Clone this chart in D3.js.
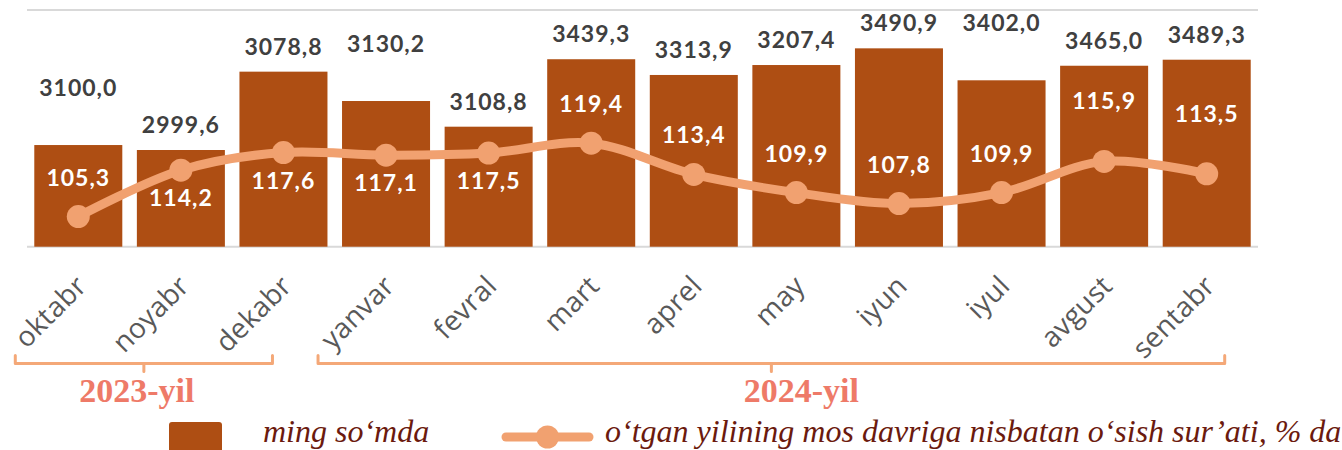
<!DOCTYPE html>
<html>
<head>
<meta charset="utf-8">
<script src="https://cdn.jsdelivr.net/npm/d3@7"></script>
<style>
  html, body { margin: 0; padding: 0; background: #ffffff; }
  svg { display: block; }
</style>
</head>
<body>
<svg id="chart" width="1342" height="450"></svg>
<script>
// ---------------- DATA ----------------
const months = ["oktabr", "noyabr", "dekabr", "yanvar", "fevral", "mart",
                "aprel", "may", "iyun", "iyul", "avgust", "sentabr"];
// printed wage labels (ming so‘mda)
const wageLabels = [3100.0, 2999.6, 3078.8, 3130.2, 3108.8, 3439.3,
                    3313.9, 3207.4, 3490.9, 3402.0, 3465.0, 3489.3];
// bar heights as drawn in the picture (they differ from the printed labels)
const barHeights = [2859, 2817, 3479, 3231, 3014, 3584,
                    3451, 3535, 3676, 3406, 3529, 3580];
// growth rate vs. same period of previous year, %
const growth = [105.3, 114.2, 117.6, 117.1, 117.5, 119.4,
                113.4, 109.9, 107.8, 109.9, 115.9, 113.5];
const yearGroups = [
  { label: "2023-yil", from: "oktabr", to: "dekabr" },
  { label: "2024-yil", from: "yanvar", to: "sentabr" }
];
const legendLabels = ["ming so‘mda", "o‘tgan yilining mos davriga nisbatan o‘sish sur’ati, % da"];

// ---------------- LAYOUT / STYLE ----------------
const barColor = "#AE4E13";
const lineColor = "#F1A170";
const gridColor = "#D9D9D9";
const plotLeft = 27, plotRight = 1258, plotTop = 10, plotBottom = 246.7;

// label placement rules (layout only)
const raisedWage = new Set(["oktabr", "yanvar", "iyul"]);
const growthPlacement = { oktabr: "above", noyabr: "below", dekabr: "below", yanvar: "below",
  fevral: "below", mart: "above", aprel: "above", may: "above", iyun: "above",
  iyul: "above", avgust: "high", sentabr: "high" };
const growthDy = { above: -39, below: 28, high: -60 };
const bracketPad = { "2023-yil": [-63, -11, -7], "2024-yil": [-68, 18, 30] };

const fmt = v => d3.format(".1f")(v).replace(".", ",");

const svg = d3.select("#chart");

const x = d3.scaleBand().domain(months).range([plotLeft, plotRight])
  .paddingInner(0.142).paddingOuter(0.071);
const yBar = d3.scaleLinear().domain([2000, 4000]).range([plotBottom, plotTop]);
const yLine = d3.scaleLinear().domain([99.5, 145]).range([plotBottom, plotTop]);
const cx = m => x(m) + x.bandwidth() / 2;

// gridlines
svg.append("g").selectAll("line").data(yBar.domain()).join("line")
  .attr("x1", plotLeft).attr("x2", plotRight)
  .attr("y1", d => yBar(d)).attr("y2", d => yBar(d))
  .attr("stroke", gridColor).attr("stroke-width", 2);

// bars
svg.append("g").selectAll("rect").data(months).join("rect")
  .attr("x", d => x(d))
  .attr("y", (d, i) => yBar(barHeights[i]))
  .attr("width", x.bandwidth())
  .attr("height", (d, i) => yBar(yBar.domain()[0]) - yBar(barHeights[i]))
  .attr("fill", barColor);

// bar (wage) labels
svg.append("g").selectAll("text").data(months).join("text")
  .attr("x", d => cx(d))
  .attr("y", (d, i) => yBar(barHeights[i]) - (raisedWage.has(d) ? 57 : 25))
  .attr("dy", "0.35em")
  .attr("text-anchor", "middle")
  .attr("font-family", "Lato, 'Open Sans', sans-serif")
  .attr("font-weight", 700)
  .attr("font-size", 23)
  .attr("letter-spacing", 1)
  .attr("fill", "#404040")
  .text((d, i) => fmt(wageLabels[i]));

// x axis
const xAxis = svg.append("g")
  .attr("transform", `translate(0,${plotBottom})`)
  .call(d3.axisBottom(x).tickSize(0));
xAxis.select(".domain").remove();
xAxis.selectAll("text")
  .attr("x", 0).attr("y", 0).attr("dy", "0.35em")
  .attr("text-anchor", "end")
  .attr("transform", "translate(3,34) rotate(-45)")
  .attr("font-family", "'Open Sans', sans-serif")
  .attr("font-size", 28)
  .attr("letter-spacing", 0.3)
  .attr("fill", "#595959");

// growth line
const line = d3.line()
  .x((d, i) => cx(months[i]))
  .y(d => yLine(d))
  .curve(d3.curveCatmullRom.alpha(0.5));
svg.append("path").datum(growth)
  .attr("d", line)
  .attr("fill", "none")
  .attr("stroke", lineColor)
  .attr("stroke-width", 9)
  .attr("stroke-linecap", "round")
  .attr("stroke-linejoin", "round");
svg.append("g").selectAll("circle").data(growth).join("circle")
  .attr("cx", (d, i) => cx(months[i]))
  .attr("cy", d => yLine(d))
  .attr("r", 11.5)
  .attr("fill", lineColor);

// growth labels
svg.append("g").selectAll("text").data(growth).join("text")
  .attr("x", (d, i) => cx(months[i]))
  .attr("y", (d, i) => yLine(d) + growthDy[growthPlacement[months[i]]])
  .attr("dy", "0.35em")
  .attr("text-anchor", "middle")
  .attr("font-family", "Lato, 'Open Sans', sans-serif")
  .attr("font-weight", 700)
  .attr("font-size", 23)
  .attr("letter-spacing", 1)
  .attr("fill", "#ffffff")
  .text(d => fmt(d));

// year brackets
const bracketColor = "#F4A878";
const yb = 363.5;
yearGroups.forEach(g => {
  const pad = bracketPad[g.label];
  const x0 = cx(g.from) + pad[0];
  const x1 = cx(g.to) + pad[1];
  const xm = (x0 + x1) / 2;
  svg.append("path")
    .attr("d", `M${x0},${yb - 8} L${x0},${yb} L${x1},${yb} L${x1},${yb - 8} M${xm},${yb} L${xm},${yb + 8}`)
    .attr("fill", "none")
    .attr("stroke", bracketColor)
    .attr("stroke-width", 3)
    .attr("stroke-linecap", "round")
    .attr("stroke-linejoin", "round");
  svg.append("text")
    .attr("x", xm + pad[2]).attr("y", 401.5)
    .attr("text-anchor", "middle")
    .attr("font-family", "'Liberation Serif', 'Times New Roman', serif")
    .attr("font-weight", 700)
    .attr("font-size", 34)
    .attr("fill", "#EE7A68")
    .text(g.label);
});

// legend
const legendColor = "#6B1A0E";
svg.append("rect")
  .attr("x", 169).attr("y", 422).attr("width", 53).attr("height", 36)
  .attr("rx", 3).attr("fill", barColor);
svg.append("text")
  .attr("x", 263).attr("y", 442)
  .attr("font-family", "'Liberation Serif', 'Times New Roman', serif")
  .attr("font-style", "italic").attr("font-size", 32)
  .attr("fill", legendColor)
  .text(legendLabels[0]);
svg.append("line")
  .attr("x1", 506).attr("x2", 589).attr("y1", 437).attr("y2", 437)
  .attr("stroke", lineColor).attr("stroke-width", 9).attr("stroke-linecap", "round");
svg.append("circle").attr("cx", 547.5).attr("cy", 437).attr("r", 11.5).attr("fill", lineColor);
svg.append("text")
  .attr("x", 605).attr("y", 442)
  .attr("font-family", "'Liberation Serif', 'Times New Roman', serif")
  .attr("font-style", "italic").attr("font-size", 32)
  .attr("fill", legendColor)
  .text(legendLabels[1]);
</script>
</body>
</html>
